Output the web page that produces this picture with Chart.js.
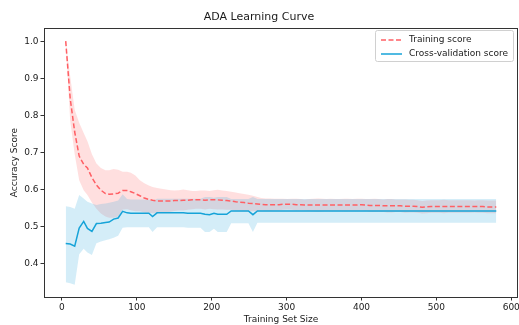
<!DOCTYPE html>
<html>
<head>
<meta charset="utf-8">
<script src="https://cdn.jsdelivr.net/npm/chart.js@4"></script>
<style>
  html, body { margin: 0; padding: 0; background: #fff; }
  #wrap { width: 519px; height: 325px; }
</style>
</head>
<body>
<div id="wrap"><canvas id="myChart" width="519" height="325"></canvas></div>
<script>
// training set sizes (x)
const sizes = [5,11,17,23,29,34,40,46,52,58, 63,69,75,81,87,92,98,104,110,116,
  121,127,133,139,145,150,156,162,168,174, 179,185,191,197,203,208,214,220,226,232,
  237,243,249,255,261,266,272,278,284,290, 295,301,307,313,319,324,330,336,342,348,
  353,359,365,371,377,382,388,394,400,406, 411,417,423,429,435,440,446,452,458,464,
  469,475,481,487,493,498,504,510,516,522, 527,533,539,545,551,556,562,568,574,580];

// training score (mean, upper, lower)
const trainMean = [1.000,0.845,0.755,0.690,0.668,0.658,0.632,0.612,0.598,0.589,
  0.587,0.588,0.590,0.597,0.597,0.594,0.589,0.583,0.577,0.573,
  0.571,0.569,0.569,0.569,0.569,0.570,0.570,0.571,0.571,0.572,
  0.572,0.572,0.571,0.572,0.572,0.572,0.571,0.570,0.569,0.567,
  0.566,0.565,0.563,0.562,0.561,0.560,0.559,0.559,0.559,0.559,
  0.560,0.560,0.560,0.559,0.559,0.558,0.558,0.558,0.558,0.558,
  0.558,0.558,0.558,0.558,0.558,0.558,0.558,0.558,0.559,0.558,
  0.557,0.557,0.557,0.556,0.556,0.556,0.556,0.556,0.555,0.555,
  0.555,0.554,0.552,0.553,0.554,0.554,0.554,0.554,0.554,0.554,
  0.554,0.554,0.554,0.554,0.554,0.554,0.554,0.553,0.553,0.553];
const trainUpper = [1.000,0.905,0.815,0.780,0.752,0.730,0.695,0.670,0.658,0.652,
  0.652,0.655,0.653,0.648,0.648,0.645,0.638,0.625,0.617,0.611,
  0.607,0.604,0.602,0.600,0.598,0.597,0.598,0.600,0.598,0.596,
  0.596,0.597,0.597,0.596,0.598,0.599,0.597,0.596,0.594,0.592,
  0.590,0.588,0.586,0.583,0.580,0.577,0.576,0.576,0.575,0.575,
  0.575,0.574,0.575,0.575,0.574,0.573,0.574,0.575,0.576,0.575,
  0.574,0.575,0.574,0.574,0.575,0.575,0.574,0.575,0.575,0.574,
  0.574,0.575,0.574,0.573,0.574,0.574,0.573,0.573,0.573,0.572,
  0.572,0.571,0.569,0.570,0.571,0.571,0.571,0.572,0.571,0.571,
  0.571,0.571,0.571,0.571,0.570,0.571,0.571,0.570,0.570,0.570];
const trainLower = [1.000,0.785,0.695,0.625,0.598,0.585,0.565,0.548,0.535,0.527,
  0.524,0.524,0.527,0.546,0.547,0.544,0.541,0.541,0.538,0.537,
  0.536,0.536,0.537,0.538,0.540,0.542,0.543,0.543,0.545,0.547,
  0.548,0.548,0.546,0.548,0.547,0.546,0.546,0.545,0.545,0.543,
  0.543,0.542,0.541,0.541,0.542,0.543,0.542,0.542,0.543,0.543,
  0.545,0.546,0.545,0.543,0.544,0.543,0.542,0.541,0.540,0.541,
  0.542,0.541,0.542,0.542,0.541,0.541,0.542,0.541,0.543,0.542,
  0.540,0.539,0.540,0.539,0.538,0.538,0.539,0.539,0.537,0.538,
  0.538,0.537,0.535,0.536,0.537,0.537,0.537,0.536,0.537,0.537,
  0.537,0.537,0.537,0.537,0.538,0.537,0.537,0.536,0.536,0.536];

// cross-validation score (mean, upper, lower)
const cvMean = [0.454,0.453,0.447,0.496,0.514,0.495,0.487,0.508,0.509,0.511,
  0.512,0.520,0.523,0.541,0.537,0.536,0.536,0.536,0.536,0.536,
  0.527,0.537,0.537,0.537,0.537,0.537,0.537,0.537,0.536,0.536,
  0.536,0.536,0.533,0.532,0.536,0.533,0.533,0.533,0.542,0.542,
  0.542,0.542,0.542,0.532,0.542,0.542,0.542,0.542,0.542,0.542,
  0.542,0.542,0.542,0.542,0.542,0.542,0.542,0.542,0.542,0.542,
  0.542,0.542,0.542,0.542,0.542,0.542,0.542,0.542,0.542,0.542,
  0.542,0.542,0.542,0.542,0.542,0.542,0.542,0.542,0.542,0.542,
  0.542,0.542,0.542,0.542,0.542,0.542,0.542,0.542,0.542,0.542,
  0.542,0.542,0.542,0.542,0.542,0.542,0.542,0.542,0.542,0.542];
const cvUpper = [0.555,0.553,0.548,0.585,0.576,0.567,0.562,0.558,0.561,0.562,
  0.564,0.567,0.570,0.587,0.574,0.573,0.573,0.573,0.573,0.573,
  0.569,0.575,0.575,0.575,0.575,0.575,0.575,0.575,0.575,0.575,
  0.575,0.575,0.580,0.580,0.578,0.580,0.580,0.580,0.574,0.574,
  0.574,0.574,0.574,0.580,0.574,0.574,0.574,0.574,0.574,0.574,
  0.574,0.574,0.574,0.574,0.574,0.574,0.574,0.574,0.574,0.574,
  0.574,0.574,0.574,0.574,0.574,0.574,0.574,0.574,0.574,0.574,
  0.574,0.574,0.574,0.574,0.574,0.574,0.574,0.574,0.574,0.574,
  0.574,0.574,0.574,0.574,0.574,0.574,0.574,0.574,0.574,0.574,
  0.574,0.574,0.574,0.574,0.574,0.574,0.574,0.574,0.574,0.574];
const cvLower = [0.350,0.347,0.343,0.425,0.440,0.430,0.423,0.455,0.460,0.463,
  0.466,0.470,0.475,0.497,0.498,0.498,0.498,0.498,0.498,0.498,
  0.485,0.498,0.498,0.498,0.498,0.498,0.498,0.498,0.497,0.497,
  0.497,0.497,0.485,0.485,0.494,0.485,0.485,0.485,0.509,0.509,
  0.509,0.509,0.509,0.485,0.510,0.510,0.510,0.510,0.510,0.510,
  0.510,0.510,0.510,0.510,0.510,0.510,0.510,0.510,0.510,0.510,
  0.510,0.510,0.510,0.510,0.510,0.510,0.510,0.510,0.510,0.510,
  0.510,0.510,0.510,0.510,0.510,0.510,0.510,0.510,0.510,0.510,
  0.510,0.510,0.510,0.510,0.510,0.510,0.510,0.510,0.510,0.510,
  0.510,0.510,0.510,0.510,0.510,0.510,0.510,0.510,0.510,0.510];

const seriesNames = ['Training score', 'Cross-validation score'];
const titleText = 'ADA Learning Curve';
const xTitle = 'Training Set Size';
const yTitle = 'Accuracy Score';

const trainColor = 'rgb(255,95,100)';
const cvColor = 'rgb(22,163,216)';
const FONT = "'DejaVu Sans', sans-serif";

function pts(ys) {
    return sizes.map((x, i) => ({x: x, y: ys[i]}));
}

// box round the plot + legend in the upper right corner
const frameAndLegend = {
    id: 'frameAndLegend',
    afterDraw(chart) {
        const c = chart.ctx;
        const a = chart.chartArea;
        c.save();
        c.strokeStyle = '#333';
        c.lineWidth = 1;
        c.strokeRect(Math.round(a.left) + 0.5, Math.round(a.top) + 0.5,
            Math.round(a.right - a.left) - 1, Math.round(a.bottom - a.top));

        // legend
        const bx = 375.5, by = 30.5, bw = 138, bh = 31;
        c.fillStyle = 'rgba(255,255,255,0.8)';
        c.strokeStyle = '#d0d0d0';
        c.beginPath();
        c.roundRect(bx, by, bw, bh, 2);
        c.fill();
        c.stroke();

        c.lineWidth = 1.5;
        c.strokeStyle = trainColor;
        c.setLineDash([5, 2.5]);
        c.beginPath(); c.moveTo(381, 40); c.lineTo(402, 40); c.stroke();
        c.setLineDash([]);
        c.strokeStyle = cvColor;
        c.beginPath(); c.moveTo(381, 54); c.lineTo(402, 54); c.stroke();

        c.fillStyle = '#1a1a1a';
        c.font = '9px ' + FONT;
        c.textBaseline = 'middle';
        c.textAlign = 'left';
        c.fillText(seriesNames[0], 409, 40);
        c.fillText(seriesNames[1], 409, 54);
        c.restore();
    }
};

var ctx = document.getElementById('myChart').getContext('2d');
var myChart = new Chart(ctx, {
    type: 'line',
    data: {
        datasets: [
            { data: pts(trainUpper), fill: '+1', backgroundColor: 'rgba(255,80,80,0.18)',
              borderWidth: 0, borderColor: 'rgba(0,0,0,0)', pointRadius: 0, order: 3 },
            { data: pts(trainLower), fill: false, borderWidth: 0,
              borderColor: 'rgba(0,0,0,0)', pointRadius: 0, order: 3 },
            { data: pts(cvUpper), fill: '+1', backgroundColor: 'rgba(60,175,225,0.22)',
              borderWidth: 0, borderColor: 'rgba(0,0,0,0)', pointRadius: 0, order: 2 },
            { data: pts(cvLower), fill: false, borderWidth: 0,
              borderColor: 'rgba(0,0,0,0)', pointRadius: 0, order: 2 },
            { label: seriesNames[0], data: pts(trainMean), borderColor: trainColor,
              borderWidth: 1.5, borderDash: [5, 2.5], pointRadius: 0, fill: false, order: 1 },
            { label: seriesNames[1], data: pts(cvMean), borderColor: cvColor,
              borderWidth: 1.5, pointRadius: 0, fill: false, order: 0 }
        ]
    },
    options: {
        responsive: false,
        animation: false,
        devicePixelRatio: 1,
        layout: { padding: { left: 0, right: 1, top: 0, bottom: 0 } },
        plugins: {
            legend: { display: false },
            tooltip: { enabled: false },
            filler: { propagate: false },
            title: {
                display: true,
                text: titleText,
                color: '#1a1a1a',
                font: { family: FONT, size: 11, weight: 'normal' },
                padding: { top: 11, bottom: 4 }
            }
        },
        scales: {
            x: {
                type: 'linear',
                min: -24, max: 609,
                grid: { display: true, drawOnChartArea: false, tickLength: 3.5, color: '#333' },
                border: { display: false },
                ticks: { stepSize: 100, includeBounds: false, color: '#1a1a1a', padding: 2,
                         maxRotation: 0, font: { family: FONT, size: 9 } },
                title: { display: true, text: xTitle, color: '#1a1a1a',
                         font: { family: FONT, size: 9 }, padding: { top: 0, bottom: 0 } },
                afterFit(s) { s.height = 28; s.paddingLeft = 0; s.paddingRight = 0; }
            },
            y: {
                min: 0.31, max: 1.035,
                grid: { display: true, drawOnChartArea: false, tickLength: 3.5, color: '#333' },
                border: { display: false },
                ticks: { stepSize: 0.1, includeBounds: false, color: '#1a1a1a', padding: 2,
                         font: { family: FONT, size: 9 },
                         callback: v => v.toFixed(1) },
                title: { display: true, text: yTitle, color: '#1a1a1a',
                         font: { family: FONT, size: 9 }, padding: { top: 9, bottom: 0 } },
                afterFit(s) { s.width = 44; s.paddingTop = 0; s.paddingBottom = 0; }
            }
        }
    },
    plugins: [frameAndLegend]
});
</script>
</body>
</html>
